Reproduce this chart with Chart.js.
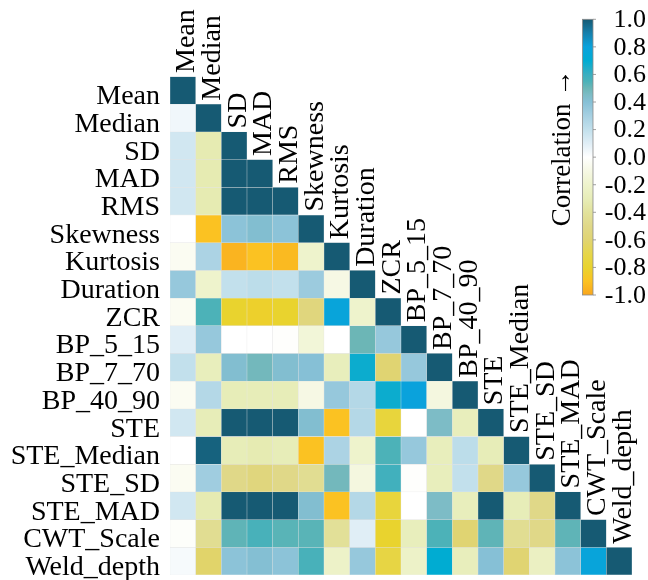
<!DOCTYPE html>
<html>
<head>
<meta charset="utf-8">
<script src="https://cdn.jsdelivr.net/npm/chart.js@4/dist/chart.umd.min.js"></script>
<style>
  html, body { margin: 0; padding: 0; background: #ffffff; }
  canvas { display: block; }
</style>
</head>
<body>
<canvas id="corr" width="648" height="580"></canvas>
<script>
// Feature names (rows top-to-bottom, columns left-to-right)
const variables = ['Mean', 'Median', 'SD', 'MAD', 'RMS', 'Skewness', 'Kurtosis', 'Duration',
  'ZCR', 'BP_5_15', 'BP_7_70', 'BP_40_90', 'STE', 'STE_Median', 'STE_SD', 'STE_MAD',
  'CWT_Scale', 'Weld_depth'];

// Lower-triangle Pearson correlations, one row per feature (diagonal included)
const rowMean       = [1.00];
const rowMedian     = [0.05, 1.00];
const rowSD         = [0.15, -0.32, 1.00];
const rowMAD        = [0.15, -0.32, 1.00, 1.00];
const rowRMS        = [0.15, -0.32, 1.00, 1.00, 1.00];
const rowSkewness   = [0.00, -0.90, 0.38, 0.42, 0.38, 1.00];
const rowKurtosis   = [-0.05, 0.28, -0.95, -0.90, -0.93, -0.20, 1.00];
const rowDuration   = [0.35, -0.20, 0.20, 0.22, 0.20, 0.33, -0.10, 1.00];
const rowZCR        = [-0.05, 0.55, -0.80, -0.82, -0.80, -0.55, 0.78, -0.20, 1.00];
const rowBP5_15     = [0.10, 0.35, 0.00, 0.00, -0.01, -0.15, 0.00, 0.50, 0.35, 1.00];
const rowBP7_70     = [0.20, -0.28, 0.42, 0.48, 0.42, 0.40, -0.28, 0.68, -0.60, 0.35, 1.00];
const rowBP40_90    = [-0.05, 0.25, -0.30, -0.30, -0.30, -0.10, 0.35, 0.25, 0.68, 0.80, -0.12, 1.00];
const rowSTE        = [0.15, -0.30, 1.00, 1.00, 1.00, 0.42, -0.90, 0.25, -0.75, 0.00, 0.45, -0.28, 1.00];
const rowSTEMedian  = [0.00, 0.98, -0.30, -0.32, -0.30, -0.90, 0.28, -0.20, 0.55, 0.35, -0.28, 0.22, -0.30, 1.00];
const rowSTESD      = [-0.05, 0.32, -0.50, -0.55, -0.50, -0.45, 0.48, -0.12, 0.58, -0.01, -0.28, 0.20, -0.50, 0.35, 1.00];
const rowSTEMAD     = [0.15, -0.32, 1.00, 1.00, 1.00, 0.42, -0.90, 0.25, -0.75, 0.00, 0.45, -0.28, 1.00, -0.30, -0.50, 1.00];
const rowCWTScale   = [-0.02, -0.45, 0.52, 0.56, 0.53, 0.53, -0.42, 0.10, -0.80, -0.28, 0.55, -0.60, 0.52, -0.45, -0.50, 0.52, 1.00];
const rowWeldDepth  = [0.03, -0.62, 0.38, 0.41, 0.38, 0.56, -0.22, 0.35, -0.72, -0.22, 0.70, -0.28, 0.40, -0.60, -0.25, 0.38, 0.78, 1.00];

// Colour bar tick labels
const colorbarTicks = [1.0, 0.8, 0.6, 0.4, 0.2, 0.0, -0.2, -0.4, -0.6, -0.8, -1.0];
const colorbarTitle = 'Correlation \u2192';

const corrRows = [rowMean, rowMedian, rowSD, rowMAD, rowRMS, rowSkewness, rowKurtosis,
  rowDuration, rowZCR, rowBP5_15, rowBP7_70, rowBP40_90, rowSTE, rowSTEMedian, rowSTESD,
  rowSTEMAD, rowCWTScale, rowWeldDepth];

// Diverging colormap: orange/yellow (negative) -> white -> teal/blue (positive)
const colorStops = [
  [-1.0, '#f9a61e'], [-0.9, '#fbc222'], [-0.8, '#e9d32e'], [-0.7, '#e6d64a'],
  [-0.6, '#e0d472'], [-0.5, '#e0d888'], [-0.4, '#e2e29c'], [-0.3, '#e7edb8'],
  [-0.2, '#eef3cc'], [-0.1, '#f6f8e4'], [0.0, '#ffffff'], [0.1, '#e0eef6'],
  [0.2, '#c2e0ec'], [0.3, '#a6d0e2'], [0.4, '#86c0d6'], [0.45, '#7dbcc6'],
  [0.5, '#6cb6b6'], [0.55, '#4cb2b8'], [0.6, '#3aaec0'], [0.7, '#00acd2'],
  [0.8, '#0aa2dc'], [0.9, '#1680ac'], [1.0, '#165a73']
];

function hexToRgb(h) {
  const n = parseInt(h.slice(1), 16);
  return [(n >> 16) & 255, (n >> 8) & 255, n & 255];
}

function corrColor(v) {
  if (v <= colorStops[0][0]) return colorStops[0][1];
  for (let i = 1; i < colorStops.length; i++) {
    const [v1, c1] = colorStops[i];
    if (v <= v1) {
      const [v0, c0] = colorStops[i - 1];
      const t = (v - v0) / (v1 - v0);
      const a = hexToRgb(c0), b = hexToRgb(c1);
      const m = a.map((ch, k) => Math.round(ch + (b[k] - ch) * t));
      return `rgb(${m[0]},${m[1]},${m[2]})`;
    }
  }
  return colorStops[colorStops.length - 1][1];
}

const FONT = '"Liberation Serif", "Times New Roman", serif';
const LABEL_SIZE = 28;

// One floating-bar dataset per row; each bar spans exactly one row band
const datasets = corrRows.map((vals, r) => ({
  label: variables[r],
  data: vals.map((v, c) => ({ x: variables[c], y: [r, r + 1] })),
  backgroundColor: vals.map(corrColor),
  borderColor: 'rgba(210,210,210,0.45)',
  borderWidth: 0.5,
  borderSkipped: false,
  grouped: false,
  barPercentage: 1,
  categoryPercentage: 1
}));

// Rotated column names sitting on top of each diagonal cell
const columnLabels = {
  id: 'columnLabels',
  afterDatasetsDraw(chart) {
    const { ctx, scales: { x, y } } = chart;
    ctx.save();
    ctx.font = `${LABEL_SIZE}px ${FONT}`;
    ctx.fillStyle = '#000';
    ctx.textAlign = 'left';
    ctx.textBaseline = 'alphabetic';
    variables.forEach((name, j) => {
      const cx = x.getPixelForValue(j);
      const top = y.getPixelForValue(j);
      ctx.save();
      ctx.translate(cx + 11.5, top - 3.5);
      ctx.rotate(-Math.PI / 2);
      ctx.fillText(name, 0, 0);
      ctx.restore();
    });
    ctx.restore();
  }
};

// Vertical colour bar with ticks and title
const colorbar = {
  id: 'colorbar',
  afterDraw(chart) {
    const { ctx } = chart;
    const bar = { left: 582.5, width: 10.5, top: 19.3, bottom: 295 };
    const h = bar.bottom - bar.top;
    const yOf = v => bar.bottom - (v + 1) / 2 * h;
    ctx.save();
    const grad = ctx.createLinearGradient(0, bar.bottom, 0, bar.top);
    colorStops.forEach(([v, c]) => grad.addColorStop((v + 1) / 2, c));
    ctx.fillStyle = grad;
    ctx.fillRect(bar.left, bar.top, bar.width, h);
    ctx.strokeStyle = '#8a8a8a';
    ctx.lineWidth = 0.8;
    ctx.strokeRect(bar.left, bar.top, bar.width, h);

    ctx.font = `26px ${FONT}`;
    ctx.fillStyle = '#000';
    ctx.textAlign = 'right';
    ctx.textBaseline = 'middle';
    colorbarTicks.forEach(v => {
      const ty = yOf(v);
      ctx.beginPath();
      ctx.moveTo(bar.left + bar.width, ty);
      ctx.lineTo(bar.left + bar.width + 3, ty);
      ctx.stroke();
      ctx.fillText(v.toFixed(1), 646, ty + 1);
    });

    ctx.save();
    ctx.translate(570, 148);
    ctx.rotate(-Math.PI / 2);
    ctx.textAlign = 'center';
    ctx.textBaseline = 'alphabetic';
    ctx.font = `27px ${FONT}`;
    ctx.fillText(colorbarTitle, 0, 0);
    ctx.restore();
    ctx.restore();
  }
};

new Chart(document.getElementById('corr'), {
  type: 'bar',
  data: { labels: variables, datasets },
  options: {
    responsive: false,
    animation: false,
    layout: { padding: { top: 76.5, right: 16, bottom: 5, left: 0 } },
    plugins: { legend: { display: false }, tooltip: { enabled: false } },
    scales: {
      x: { type: 'category', labels: variables, display: false },
      y: {
        type: 'linear',
        min: 0,
        max: variables.length,
        reverse: true,
        afterBuildTicks: s => { s.ticks = variables.map((_, i) => ({ value: i + 0.5 })); },
        afterFit: s => { s.width = 170; s.paddingTop = 0; s.paddingBottom = 0; },
        grid: { display: false, drawTicks: false },
        border: { display: false },
        ticks: {
          autoSkip: false,
          padding: 10,
          labelOffset: 6.5,
          color: '#000',
          font: { family: FONT, size: LABEL_SIZE },
          callback: v => variables[Math.round(v - 0.5)]
        }
      }
    }
  },
  plugins: [columnLabels, colorbar]
});
</script>
</body>
</html>
